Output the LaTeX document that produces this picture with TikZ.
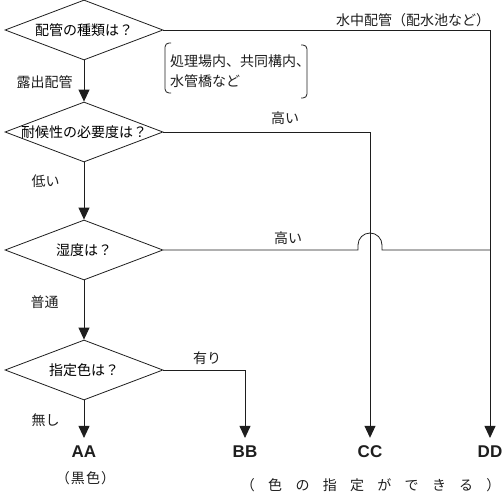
\documentclass[tikz,border=0pt]{standalone}
\usepackage{fontspec}
\setmainfont{Liberation Sans}
\newfontfamily\jpfont{Noto Sans CJK JP}
\usetikzlibrary{arrows.meta,calc,shapes.geometric}
\definecolor{ink}{HTML}{1E1E1E}

\begin{document}
\begin{tikzpicture}[
  x=1pt, y=-1pt,
  font=\jpfont\fontsize{14}{20}\selectfont,
  >={Triangle[length=12pt,width=11pt]},
  decision/.style={diamond, draw=ink, line width=0.8pt, minimum width=158pt, minimum height=60pt, inner sep=0pt},
  result/.style={font=\bfseries\fontsize{17}{17}\selectfont, text=ink, inner sep=8pt},
  link/.style={->, draw=ink, line width=0.9pt},
  wire/.style={draw=ink, line width=0.8pt},
  small/.style={text=ink, inner sep=1pt}
]
\useasboundingbox (0,0) rectangle (501,503);

% Questions, top to bottom
\node[decision, label={center:配管の種類は？}] (kind) at (84,30) {};
\node[decision, label={center:耐候性の必要度は？}] (weather) at (84,132) {};
\node[decision, label={center:湿度は？}] (humid) at (84,250) {};
\node[decision, label={center:指定色は？}] (colour) at (84,370) {};

% Results
\node[result] (aa) at (84,452) {AA};
\node[result] (bb) at (245,452) {BB};
\node[result] (cc) at (370,452) {CC};
\node[result] (dd) at (490,452) {DD};
\node[small] (black) at (85,478) {\addfontfeature{LetterSpace=8}（黒色）\kern-1pt};
\node[small] (free) at (364,485) {\addfontfeature{LetterSpace=95}（色の指定ができる）\kern-13.3pt};

% Main line down the left
\draw[link] (kind.south) -- node[small, pos=0.54, left=10pt] (exposed) {露出配管} (weather.north);
\draw[link] (weather.south) -- node[small, pos=0.33, left=23pt] (low) {低い} (humid.north);
\draw[link] (humid.south) -- node[small, pos=0.37, left=24pt] (normal) {普通} (colour.north);
\draw[link] (colour.south) -- node[small, pos=0.54, left=23pt] (none) {無し} (aa.north);

% Branches to the right
\draw[link] (kind.east) -| (dd.north);
\node[small] (under) at (413,20) {水中配管（配水池など）};
\draw[link] (weather.east) -| (cc.north);
\node[small] (high1) at (285,118) {高い};
\draw[wire] (humid.east) -- ($(cc.north|-humid.east)+(-12,0)$) -- ++(0,-5)
  arc[start angle=180, end angle=360, radius=12] -- ++(0,5) -- (dd.north|-humid.east);
\node[small] (high2) at (288,238) {高い};
\draw[link] (colour.east) -| (bb.north);
\node[small] (given) at (207,358) {有り};

% Note on exposed piping
\node[small, anchor=west, align=left] (places) at (169,71) {処理場内、共同構内、\\水管橋など};
\draw[wire, rounded corners=4pt] (171,43) -- (165,43) -- (165,93) -- (171,93);
\draw[wire, rounded corners=4pt] (301,45) -- (307,45) -- (307,98) -- (301,98);

\end{tikzpicture}
\end{document}
